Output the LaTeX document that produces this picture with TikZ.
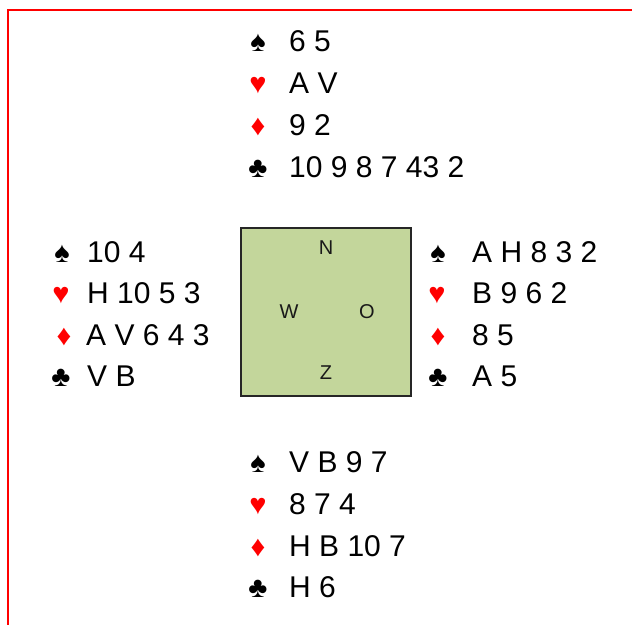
\documentclass[tikz,border=0pt]{standalone}
\usepackage{fontspec}
\setmainfont{Liberation Sans}
\begin{document}
\begin{tikzpicture}[x=1pt,y=-1pt,
  cards/.style={anchor=base west, inner sep=0pt, font=\fontsize{30}{30}\selectfont, text=black},
  suit/.style={anchor=base, inner sep=0pt, font=\fontsize{29}{29}\selectfont},
  blacksuit/.style={suit, text=black},
  redsuit/.style={suit, text=red},
  seat/.style={inner sep=0pt, font=\fontsize{20}{20}\selectfont, text=black!90},
  table/.style={draw=black!85, line width=1.4pt, fill=tablegreen, minimum width=170pt, minimum height=168pt, inner sep=0pt}
]
\definecolor{tablegreen}{HTML}{C3D69B}
\useasboundingbox (0,0) rectangle (632,625);

% frame
\coordinate (fr-tr) at (632,10);
\coordinate (fr-tl) at (8,10);
\coordinate (fr-bl) at (8,625);
\draw[red, line width=2.6pt] (fr-tr) -- (fr-tl) -- (fr-bl);

% table with compass points
\node[table] (tbl) at (326,312) {};
\node[seat] (lbl-n) at (326,248) {N};
\node[seat] (lbl-w) at (289,312) {W};
\node[seat] (lbl-o) at (367,312) {O};
\node[seat] (lbl-z) at (326,373) {Z};

% North
\node[blacksuit] (n-s) at (258,51) {♠};
\node[cards] (n-st) at (289,51) {6 5};
\node[redsuit] (n-h) at (258,93) {♥};
\node[cards] (n-ht) at (289,93) {A V};
\node[redsuit] (n-d) at (258,135) {♦};
\node[cards] (n-dt) at (289,135) {9 2};
\node[blacksuit] (n-c) at (258,177) {♣};
\node[cards] (n-ct) at (289,177) {10 9 8 7 43 2};

% West
\node[blacksuit] (w-s) at (62,262) {♠};
\node[cards] (w-st) at (87,262) {10 4};
\node[redsuit] (w-h) at (61,303) {♥};
\node[cards] (w-ht) at (87,303) {H 10 5 3};
\node[redsuit] (w-d) at (64,345) {♦};
\node[cards] (w-dt) at (86,345) {A V 6 4 3};
\node[blacksuit] (w-c) at (61,386) {♣};
\node[cards] (w-ct) at (87,386) {V B};

% East
\node[blacksuit] (e-s) at (438,262) {♠};
\node[cards] (e-st) at (472,262) {A H 8 3 2};
\node[redsuit] (e-h) at (437,303) {♥};
\node[cards] (e-ht) at (472,303) {B 9 6 2};
\node[redsuit] (e-d) at (438,345) {♦};
\node[cards] (e-dt) at (472,345) {8 5};
\node[blacksuit] (e-c) at (438,386) {♣};
\node[cards] (e-ct) at (472,386) {A 5};

% South
\node[blacksuit] (s-s) at (258,472) {♠};
\node[cards] (s-st) at (289,472) {V B 9 7};
\node[redsuit] (s-h) at (258,514) {♥};
\node[cards] (s-ht) at (289,514) {8 7 4};
\node[redsuit] (s-d) at (258,556) {♦};
\node[cards] (s-dt) at (289,556) {H B 10 7};
\node[blacksuit] (s-c) at (258,597) {♣};
\node[cards] (s-ct) at (289,597) {H 6};
\end{tikzpicture}
\end{document}
